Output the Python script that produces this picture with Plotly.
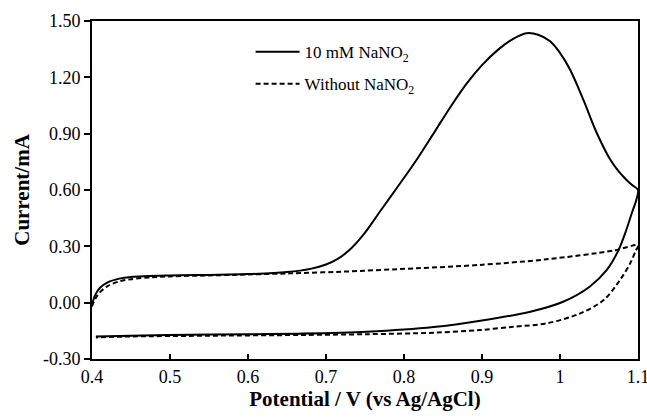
import plotly.graph_objects as go

# 10 mM NaNO2: forward (anodic) scan then reverse scan
nitrite_fwd_v = [0.400, 0.404, 0.410, 0.420, 0.435, 0.450, 0.500, 0.550, 0.600, 0.650, 0.680, 0.700, 0.715,
                 0.730, 0.748, 0.769, 0.791, 0.816, 0.840, 0.860, 0.880, 0.900, 0.920, 0.940, 0.957, 0.972,
                 0.987, 1.000, 1.013, 1.030, 1.047, 1.064, 1.075, 1.085, 1.093, 1.100]
nitrite_fwd_i = [-0.010, 0.040, 0.078, 0.108, 0.128, 0.137, 0.145, 0.148, 0.152, 0.163, 0.180, 0.203, 0.233,
                 0.280, 0.362, 0.484, 0.612, 0.760, 0.915, 1.045, 1.165, 1.265, 1.345, 1.405, 1.435, 1.427,
                 1.393, 1.330, 1.240, 1.080, 0.905, 0.765, 0.700, 0.655, 0.625, 0.600]
nitrite_rev_v = [1.098, 1.092, 1.085, 1.075, 1.060, 1.038, 1.004, 0.962, 0.900, 0.838, 0.752, 0.667,
                 0.600, 0.500, 0.450, 0.405]
nitrite_rev_i = [0.550, 0.476, 0.387, 0.280, 0.174, 0.085, 0.005, -0.048, -0.095, -0.130, -0.155,
                 -0.165, -0.168, -0.172, -0.176, -0.180]

# Without NaNO2: forward scan then reverse scan
blank_fwd_v = [0.400, 0.404, 0.410, 0.420, 0.434, 0.450, 0.476, 0.500, 0.550, 0.600, 0.654, 0.720,
               0.816, 0.897, 0.983, 1.068, 1.100]
blank_fwd_i = [-0.020, 0.020, 0.055, 0.088, 0.112, 0.125, 0.135, 0.140, 0.145, 0.150, 0.156, 0.165,
               0.183, 0.201, 0.231, 0.277, 0.305]
blank_rev_v = [1.097, 1.090, 1.077, 1.056, 1.026, 0.983, 0.940, 0.897, 0.838, 0.752, 0.667, 0.550,
               0.450, 0.405]
blank_rev_i = [0.275, 0.210, 0.121, 0.014, -0.057, -0.110, -0.128, -0.146, -0.160, -0.168, -0.172,
               -0.176, -0.180, -0.185]

series_names = ["10 mM NaNO<sub>2</sub>", "Without NaNO<sub>2</sub>"]

x_ticks = [0.4, 0.5, 0.6, 0.7, 0.8, 0.9, 1.0, 1.1]
x_tick_labels = ["0.4", "0.5", "0.6", "0.7", "0.8", "0.9", "1", "1.1"]
y_ticks = [-0.30, 0.00, 0.30, 0.60, 0.90, 1.20, 1.50]
y_tick_labels = ["-0.30", "0.00", "0.30", "0.60", "0.90", "1.20", "1.50"]

FONT = "Liberation Serif, Times New Roman, serif"

fig = go.Figure()
fig.add_trace(go.Scatter(
    x=nitrite_fwd_v + nitrite_rev_v, y=nitrite_fwd_i + nitrite_rev_i,
    mode="lines", name=series_names[0], legendgroup="a",
    line=dict(color="black", width=2, shape="spline", smoothing=0.9),
))
fig.add_trace(go.Scatter(
    x=blank_fwd_v + blank_rev_v, y=blank_fwd_i + blank_rev_i,
    mode="lines", name=series_names[1], legendgroup="b",
    line=dict(color="black", width=2, dash="5px,3px", shape="spline", smoothing=0.9),
))

fig.update_layout(
    width=647, height=419,
    margin=dict(l=92, r=9, t=21, b=60, autoexpand=False),
    paper_bgcolor="white", plot_bgcolor="white",
    font=dict(family=FONT, size=18, color="black"),
    showlegend=True,
    legend=dict(x=0.2905, y=0.961, xanchor="left", yanchor="top",
                bgcolor="rgba(0,0,0,0)", font=dict(family=FONT, size=17),
                traceorder="grouped", tracegroupgap=7, itemwidth=44),
)
fig.update_xaxes(
    range=[0.4, 1.1], tickvals=x_ticks, ticktext=x_tick_labels,
    showgrid=False, zeroline=False, ticklabeloverflow="allow", automargin=False,
    showline=True, linecolor="black", linewidth=2, mirror=True,
    ticks="inside", ticklen=5, tickwidth=1.5, tickcolor="black",
    title=dict(text="<b>Potential / V (vs Ag/AgCl)</b>", font=dict(family=FONT, size=21), standoff=6),
)
fig.update_yaxes(
    range=[-0.3, 1.5], tickvals=y_ticks, ticktext=y_tick_labels,
    showgrid=False, zeroline=False, automargin=False,
    showline=True, linecolor="black", linewidth=2, mirror=True,
    ticks="outside", ticklen=6, tickwidth=1.5, tickcolor="black",
    title=dict(text="<b>Current/mA</b>", font=dict(family=FONT, size=21), standoff=8),
)

fig.write_html("out.html", config={"displayModeBar": False},
               post_script="document.body.style.margin='0';document.body.style.overflow='hidden';")
